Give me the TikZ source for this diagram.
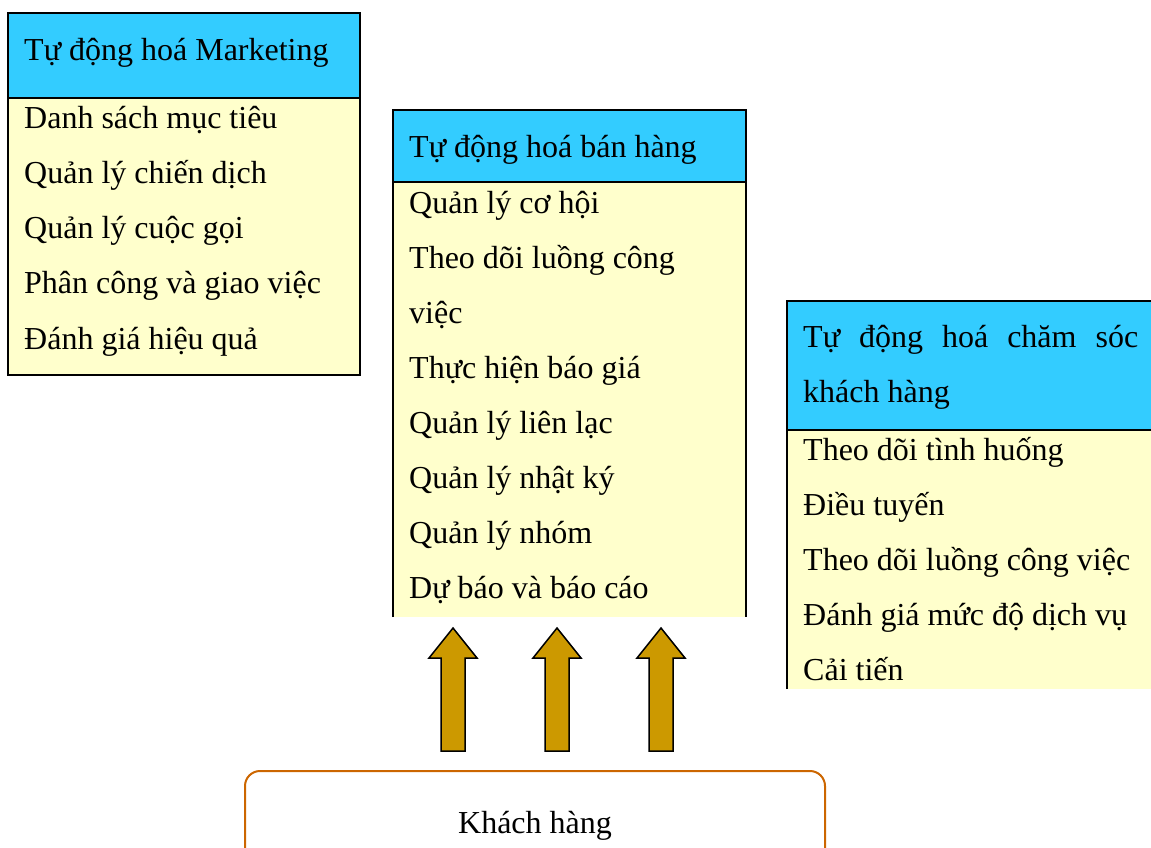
\documentclass[tikz,border=0pt]{standalone}
\usepackage{fontspec}
\setmainfont{Liberation Serif}
\usepackage{xcolor}
\definecolor{headblue}{HTML}{33CCFF}
\definecolor{itemyellow}{HTML}{FFFFCC}
\definecolor{arrowgold}{HTML}{CC9900}
\definecolor{custorange}{HTML}{CC6600}

\begin{document}
\begin{tikzpicture}[x=1pt,y=-1pt]%
  \tikzstyle{itm}=[anchor=base west,inner sep=0,font=\fontsize{32}{40}\selectfont]
  \tikzstyle{edge}=[draw=black,line width=2pt]
  \tikzstyle{blk}=[fill=arrowgold,draw=black,line width=1.5pt,line join=miter]
  \clip (0,0) rectangle (1151,847);
  % marketing
  \draw[edge,fill=itemyellow] (8,13) rectangle (360,375);
  \draw[edge,fill=headblue] (8,13) rectangle (360,98);
  \node(mhead)[itm] at (24,60) {Tự động hoá Marketing};
  \foreach \t [count=\i] in {Danh sách mục tiêu,Quản lý chiến dịch,Quản lý cuộc gọi,
      Phân công và giao việc,Đánh giá hiệu quả}
    \node(m\i)[itm] at (24,{128+55.25*(\i-1)}) {\t};
  % ban hang
  \fill[itemyellow] (393,182) rectangle (746,617);
  \draw[edge] (393,617) -- (393,110) -- (746,110) -- (746,617);
  \draw[edge,fill=headblue] (393,110) rectangle (746,182);
  \node(shead)[itm] at (409,157) {Tự động hoá bán hàng};
  \foreach \t [count=\i] in {Quản lý cơ hội,Theo dõi luồng công,việc,Thực hiện báo giá,
      Quản lý liên lạc,Quản lý nhật ký,Quản lý nhóm,Dự báo và báo cáo}
    \node(s\i)[itm] at (409,{213+55.14*(\i-1)}) {\t};
  % cham soc
  \fill[itemyellow] (787,430) rectangle (1170,689);
  \draw[edge] (787,689) -- (787,301) -- (1170,301);
  \draw[edge,fill=headblue] (787,301) rectangle (1170,430);
  \node(chead)[itm] at (803,347) {\makebox[335pt][s]{Tự động hoá chăm sóc}};
  \node(chead2)[itm] at (803,402) {khách hàng};
  \foreach \t [count=\i] in {Theo dõi tình huống,Điều tuyến,Theo dõi luồng công việc,
      Đánh giá mức độ dịch vụ,Cải tiến}
    \node(c\i)[itm] at (803,{460+55*(\i-1)}) {\t};
  % block arrows
  \foreach \x in {453,557,661}
    \draw[blk] (\x-12,751) -- (\x-12,658) -- (\x-24,658) -- (\x,628)
      -- (\x+24,658) -- (\x+12,658) -- (\x+12,751) -- cycle;
  % khach hang
  \draw[custorange,line width=2pt,rounded corners=15pt] (245,771) rectangle (825,890);
  \node(kh)[itm,anchor=base] at (535,833) {Khách hàng};
\end{tikzpicture}
\end{document}
